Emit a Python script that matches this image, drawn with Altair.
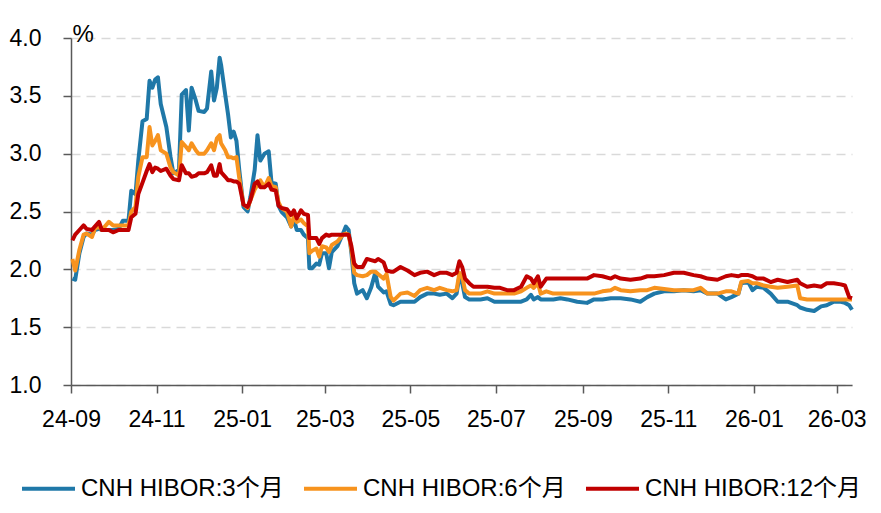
import altair as alt
import pandas as pd

dates = [
    "2024-09-02", "2024-09-04", "2024-09-07", "2024-09-10", "2024-09-12", "2024-09-16", "2024-09-18",
    "2024-09-21", "2024-09-23", "2024-09-28", "2024-10-01", "2024-10-05", "2024-10-08", "2024-10-12",
    "2024-10-14", "2024-10-17", "2024-10-19", "2024-10-22", "2024-10-25", "2024-10-27", "2024-10-29",
    "2024-10-31", "2024-11-02", "2024-11-04", "2024-11-08", "2024-11-11", "2024-11-13", "2024-11-17",
    "2024-11-19", "2024-11-22", "2024-11-24", "2024-11-26", "2024-11-29", "2024-12-01", "2024-12-05",
    "2024-12-07", "2024-12-10", "2024-12-12", "2024-12-14", "2024-12-16", "2024-12-17", "2024-12-20",
    "2024-12-22", "2024-12-24", "2024-12-26", "2024-12-28", "2024-12-30", "2025-01-02", "2025-01-05",
    "2025-01-07", "2025-01-10", "2025-01-12", "2025-01-14", "2025-01-17", "2025-01-20", "2025-01-22",
    "2025-01-25", "2025-01-27", "2025-01-29", "2025-02-02", "2025-02-05", "2025-02-07", "2025-02-09",
    "2025-02-12", "2025-02-14", "2025-02-17", "2025-02-18", "2025-02-20", "2025-02-23", "2025-02-25",
    "2025-02-27", "2025-03-02", "2025-03-04", "2025-03-06", "2025-03-10", "2025-03-14", "2025-03-16",
    "2025-03-18", "2025-03-20", "2025-03-22", "2025-03-24", "2025-03-28", "2025-03-31", "2025-04-03",
    "2025-04-06", "2025-04-08", "2025-04-12", "2025-04-14", "2025-04-17", "2025-04-19", "2025-04-24",
    "2025-04-29", "2025-05-04", "2025-05-08", "2025-05-13", "2025-05-18", "2025-05-22", "2025-05-27",
    "2025-05-31", "2025-06-03", "2025-06-05", "2025-06-07", "2025-06-09", "2025-06-12", "2025-06-15",
    "2025-06-20", "2025-06-25", "2025-06-30", "2025-07-04", "2025-07-09", "2025-07-14", "2025-07-19",
    "2025-07-23", "2025-07-26", "2025-07-28", "2025-07-31", "2025-08-02", "2025-08-06", "2025-08-11",
    "2025-08-16", "2025-08-21", "2025-08-28", "2025-09-04", "2025-09-09", "2025-09-15", "2025-09-21",
    "2025-09-24", "2025-09-28", "2025-10-05", "2025-10-12", "2025-10-17", "2025-10-22", "2025-10-29",
    "2025-11-05", "2025-11-12", "2025-11-19", "2025-11-24", "2025-11-29", "2025-12-06", "2025-12-12",
    "2025-12-16", "2025-12-21", "2025-12-23", "2025-12-28", "2025-12-31", "2026-01-03", "2026-01-08",
    "2026-01-13", "2026-01-18", "2026-01-25", "2026-02-01", "2026-02-03", "2026-02-08", "2026-02-13",
    "2026-02-18", "2026-02-22", "2026-02-27", "2026-03-04", "2026-03-07", "2026-03-10", "2026-03-12",
]

hibor_3m = [
    1.92, 1.91, 2.14, 2.28, 2.31, 2.30, 2.34, 2.35, 2.34, 2.34, 2.34, 2.35, 2.42, 2.42,
    2.68, 2.65, 2.94, 3.28, 3.30, 3.63, 3.57, 3.64, 3.66, 3.43, 3.23, 2.97, 2.83, 2.86,
    3.51, 3.55, 3.20, 3.57, 3.46, 3.37, 3.36, 3.39, 3.71, 3.46, 3.57, 3.83, 3.77, 3.51,
    3.34, 3.14, 3.19, 3.11, 2.86, 2.54, 2.50, 2.63, 2.86, 3.16, 2.94, 3.00, 3.02, 2.75,
    2.74, 2.55, 2.50, 2.45, 2.37, 2.43, 2.34, 2.34, 2.30, 2.27, 2.01, 2.01, 2.05, 2.04,
    2.14, 2.14, 2.01, 2.15, 2.20, 2.31, 2.37, 2.34, 2.14, 1.88, 1.79, 1.82, 1.75, 1.84,
    1.97, 1.85, 1.80, 1.81, 1.70, 1.69, 1.72, 1.72, 1.72, 1.76, 1.79, 1.79, 1.78, 1.79,
    1.75, 1.79, 1.94, 1.88, 1.76, 1.74, 1.74, 1.74, 1.75, 1.72, 1.72, 1.72, 1.72, 1.72,
    1.74, 1.78, 1.74, 1.76, 1.74, 1.74, 1.74, 1.75, 1.74, 1.72, 1.71, 1.74, 1.74, 1.75,
    1.75, 1.75, 1.74, 1.72, 1.76, 1.79, 1.81, 1.81, 1.82, 1.81, 1.82, 1.79, 1.79, 1.74,
    1.76, 1.79, 1.88, 1.89, 1.82, 1.85, 1.84, 1.79, 1.72, 1.72, 1.69, 1.67, 1.65, 1.64,
    1.68, 1.69, 1.72, 1.72, 1.71, 1.69, 1.65,
]

hibor_6m = [
    2.09, 1.99, 2.17, 2.30, 2.31, 2.28, 2.35, 2.37, 2.34, 2.41, 2.38, 2.38, 2.38, 2.38,
    2.50, 2.54, 2.80, 2.97, 2.97, 3.23, 3.07, 3.11, 3.16, 3.03, 3.00, 2.88, 2.84, 2.81,
    3.10, 3.06, 3.03, 3.09, 3.03, 3.00, 3.00, 3.03, 3.09, 3.03, 3.13, 3.16, 3.09, 3.03,
    2.97, 2.97, 2.96, 2.97, 2.79, 2.56, 2.53, 2.60, 2.69, 2.73, 2.77, 2.71, 2.79, 2.72,
    2.71, 2.58, 2.53, 2.50, 2.37, 2.46, 2.41, 2.43, 2.40, 2.37, 2.14, 2.16, 2.18, 2.11,
    2.20, 2.19, 2.15, 2.21, 2.24, 2.30, 2.31, 2.30, 2.17, 1.97, 1.95, 1.94, 1.95, 1.98,
    1.98, 1.96, 1.92, 1.96, 1.76, 1.73, 1.79, 1.80, 1.77, 1.82, 1.84, 1.82, 1.84, 1.82,
    1.81, 1.82, 1.97, 1.94, 1.82, 1.79, 1.79, 1.79, 1.81, 1.79, 1.79, 1.79, 1.79, 1.81,
    1.84, 1.86, 1.84, 1.88, 1.79, 1.81, 1.79, 1.79, 1.79, 1.79, 1.79, 1.79, 1.81, 1.82,
    1.84, 1.82, 1.81, 1.82, 1.82, 1.84, 1.83, 1.82, 1.82, 1.82, 1.84, 1.79, 1.79, 1.81,
    1.81, 1.79, 1.89, 1.90, 1.88, 1.88, 1.86, 1.85, 1.84, 1.85, 1.86, 1.75, 1.74, 1.74,
    1.74, 1.74, 1.74, 1.74, 1.74, 1.74, 1.74,
]

hibor_12m = [
    2.25, 2.30, 2.34, 2.38, 2.35, 2.34, 2.37, 2.41, 2.34, 2.34, 2.32, 2.34, 2.34, 2.34,
    2.45, 2.48, 2.65, 2.75, 2.85, 2.91, 2.84, 2.88, 2.87, 2.85, 2.87, 2.81, 2.78, 2.77,
    2.90, 2.83, 2.83, 2.80, 2.81, 2.83, 2.83, 2.84, 2.90, 2.81, 2.81, 2.91, 2.84, 2.80,
    2.77, 2.77, 2.76, 2.76, 2.74, 2.56, 2.54, 2.60, 2.74, 2.76, 2.71, 2.71, 2.74, 2.69,
    2.68, 2.55, 2.53, 2.52, 2.47, 2.51, 2.44, 2.51, 2.48, 2.47, 2.27, 2.27, 2.27, 2.22,
    2.27, 2.30, 2.29, 2.30, 2.30, 2.30, 2.30, 2.30, 2.20, 2.05, 2.02, 2.02, 2.09, 2.08,
    2.07, 2.09, 2.06, 1.99, 1.98, 1.98, 2.02, 1.99, 1.95, 1.97, 1.98, 1.95, 1.97, 1.97,
    1.95, 1.97, 2.07, 2.02, 1.92, 1.88, 1.85, 1.85, 1.85, 1.84, 1.84, 1.82, 1.82, 1.85,
    1.94, 1.92, 1.88, 1.94, 1.85, 1.92, 1.92, 1.92, 1.92, 1.92, 1.92, 1.95, 1.94, 1.92,
    1.94, 1.92, 1.91, 1.92, 1.94, 1.94, 1.95, 1.97, 1.97, 1.95, 1.94, 1.92, 1.91, 1.94,
    1.95, 1.94, 1.95, 1.95, 1.94, 1.92, 1.92, 1.89, 1.91, 1.89, 1.91, 1.88, 1.85, 1.86,
    1.85, 1.88, 1.88, 1.87, 1.86, 1.76, 1.75,
]

series_names = ["CNH HIBOR:3个月", "CNH HIBOR:6个月", "CNH HIBOR:12个月"]
series_colors = ["#1F78A8", "#F7931E", "#C00000"]
y_ticks = [1.0, 1.5, 2.0, 2.5, 3.0, 3.5, 4.0]
x_tick_months = [(2024, 9), (2024, 11), (2025, 1), (2025, 3), (2025, 5), (2025, 7),
                 (2025, 9), (2025, 11), (2026, 1), (2026, 3)]

rows = []
for name, vals in zip(series_names, [hibor_3m, hibor_6m, hibor_12m]):
    for d, v in zip(dates, vals):
        rows.append({"date": d, "series": name, "value": v})
df = pd.DataFrame(rows)
df["date"] = pd.to_datetime(df["date"])

FONT = "Liberation Sans, Arial, Noto Sans CJK SC, sans-serif"
AXIS_COLOR = "#595959"

chart = alt.Chart(df).mark_line(strokeWidth=4, strokeJoin="round").encode(
    x=alt.X(
        "date:T",
        scale=alt.Scale(domain=[alt.DateTime(year=2024, month=9, date=1),
                                alt.DateTime(year=2026, month=3, date=12)]),
        axis=alt.Axis(
            values=[alt.DateTime(year=y, month=m, date=1) for y, m in x_tick_months],
            format="%y-%m", title=None, grid=False,
            labelFont=FONT, labelFontSize=23, labelColor="#000000", labelPadding=15,
            labelFlush=False, labelOverlap=False,
            tickSize=8, tickWidth=1.5, tickColor=AXIS_COLOR,
            domainColor=AXIS_COLOR, domainWidth=1.5,
        ),
    ),
    y=alt.Y(
        "value:Q",
        scale=alt.Scale(domain=[1.0, 4.0], nice=False, zero=False),
        axis=alt.Axis(
            values=y_ticks, format=".1f",
            title="%", titleAngle=0, titleX=1, titleY=3, titleAlign="left",
            titleBaseline="alphabetic", titleFont=FONT, titleFontSize=24,
            titleFontWeight="normal", titleColor="#000000",
            labelFont=FONT, labelFontSize=23, labelColor="#000000", labelPadding=22,
            tickSize=8, tickWidth=1.5, tickColor=AXIS_COLOR,
            domainColor=AXIS_COLOR, domainWidth=1.5,
            grid=True, gridColor="#D9D9D9", gridDash=[9, 6], gridWidth=1.5,
        ),
    ),
    color=alt.Color(
        "series:N",
        scale=alt.Scale(domain=series_names, range=series_colors),
        legend=alt.Legend(
            title=None, orient="none", legendX=-51, legendY=422, direction="horizontal",
            symbolType="stroke", symbolSize=2809, symbolStrokeWidth=4,
            labelFont=FONT, labelFontSize=24, labelColor="#000000", labelLimit=400,
            labelOffset=4, columnPadding=12, padding=0,
        ),
    ),
).properties(
    width=781,
    height=347,
    autosize=alt.AutoSizeParams(type="none"),
    padding={"left": 63, "top": 30, "right": 21, "bottom": 120},
    background="white",
).configure_view(stroke=None)

chart.save("out.html", embed_options={"renderer": "svg", "actions": False})
